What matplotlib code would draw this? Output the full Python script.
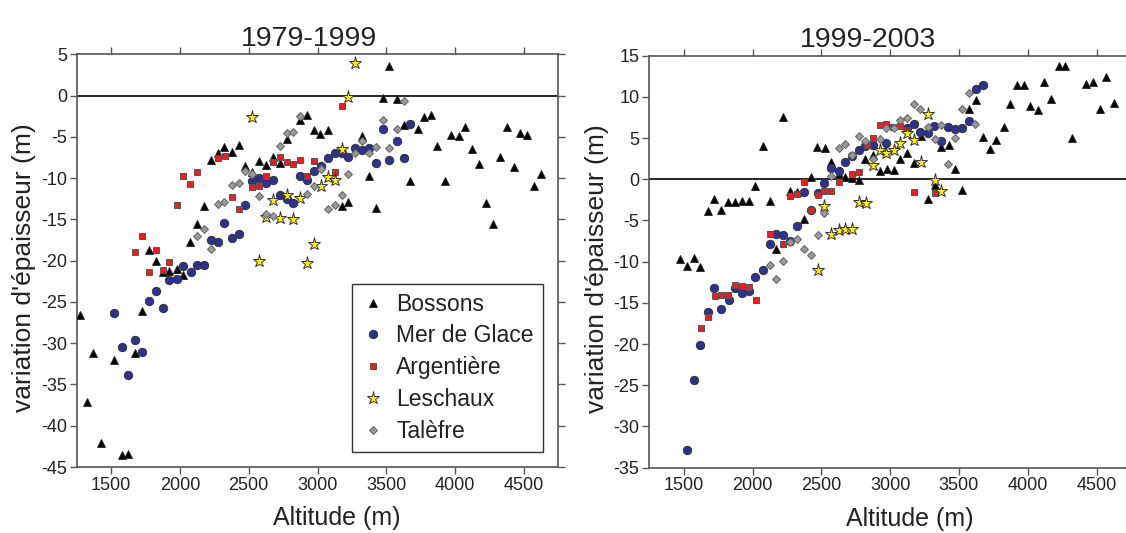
import matplotlib
matplotlib.use("Agg")
import matplotlib.pyplot as plt

plt.rcParams['font.family'] = ['Liberation Sans', 'DejaVu Sans']
plt.rcParams['axes.unicode_minus'] = False

# ---------------- data: 1979-1999 ----------------
bossons_alt_a = [2927, 2874, 2976, 3020, 3075, 2777, 2426, 2324, 2377, 2275, 2225, 2576, 2627, 2675, 2724, 2474, 2523,
                 2176, 2123, 2074, 1774, 1825,
                 3523, 3475, 3577, 3775, 3826, 3327, 3625, 3727, 3972, 4025, 4073, 4376, 4473, 4526, 3872, 4124, 4323,
                 4175, 4425, 4626, 4577, 3376, 3674, 3923, 3225, 3177, 3426, 4226, 4275,
                 1876, 1924, 1977, 2026, 1275, 1723, 1372, 1524, 1674, 1328, 1427, 1578, 1626]
bossons_dh_a = [-2.4, -3.0, -4.2, -4.7, -4.2, -5.3, -6.0, -6.2, -6.8, -7.0, -7.8, -7.9, -8.4, -7.5, -8.2, -8.5, -9.2,
                -13.4, -15.5, -17.8, -18.7, -20.0,
                3.6, -0.3, -0.4, -2.6, -2.4, -4.9, -3.6, -4.0, -4.8, -4.9, -3.8, -3.8, -4.5, -4.8, -6.1, -6.5, -7.4,
                -8.3, -8.6, -9.5, -10.9, -9.7, -10.3, -10.3, -12.9, -13.4, -13.6, -13.0, -15.5,
                -21.4, -21.2, -21.0, -21.7, -26.6, -26.1, -31.2, -32.0, -31.2, -37.1, -42.1, -43.5, -43.4]

merdeglace_alt_a = [3024, 2976, 2874, 2922, 2576, 2527, 2627, 2675, 2724, 2777, 2825, 2474, 2324, 2225, 2275, 2377, 2426,
                    2026, 2123, 2176,
                    3674, 3475, 3577, 3274, 3322, 3376, 3177, 3225, 3124, 3075, 3426, 3523, 3625,
                    2079, 1924, 1977, 1825, 1776, 1876, 1524, 1674, 1578, 1723, 1626]
merdeglace_dh_a = [-8.5, -9.1, -9.7, -10.2, -10.0, -10.4, -10.6, -10.2, -12.0, -12.5, -13.0, -13.3, -15.4, -17.5, -17.7,
                   -17.3, -16.8, -20.7, -20.5, -20.5,
                   -3.5, -4.1, -5.5, -6.3, -6.6, -6.4, -7.0, -7.5, -7.0, -7.6, -8.2, -7.8, -7.6,
                   -21.4, -22.4, -22.2, -23.7, -24.9, -25.7, -26.4, -29.6, -30.5, -31.1, -33.9]

argentiere_alt_a = [2275, 2329, 2724, 2680, 2777, 2825, 2874, 2976, 2026, 2123, 2074, 2627, 2927, 2523, 2576, 2377, 2426,
                    1977, 1723, 1825, 1674, 1924, 3177, 3124, 1776, 1876]
argentiere_dh_a = [-7.6, -7.3, -7.5, -8.0, -8.0, -8.3, -7.8, -7.9, -9.7, -9.2, -10.7, -9.8, -9.7, -11.1, -11.0, -12.3,
                   -13.7, -13.3, -17.0, -18.7, -19.0, -20.2, -1.3, -9.3, -21.4, -21.1]

leschaux_alt_a = [2523, 2777, 2675, 2874, 2627, 2724, 2825, 2976, 2576, 2922, 3274, 3225, 3177, 3075, 3124, 3024]
leschaux_dh_a = [-2.6, -12.1, -12.6, -12.4, -14.7, -14.8, -15.0, -18.0, -20.0, -20.3, 3.9, -0.2, -6.5, -9.9, -10.2, -11.0]

talefre_alt_a = [2874, 2777, 2825, 2724, 2474, 2523, 2377, 2426, 2576, 2275, 2324, 2627, 2675, 2922, 2976, 2176, 2123,
                 2225, 3625, 3475, 3577, 3322, 3274, 3376, 3426, 3523, 3024, 3225, 3177, 3124, 3075]
talefre_dh_a = [-2.5, -4.5, -4.4, -6.1, -9.1, -9.5, -10.8, -10.6, -12.2, -13.1, -12.9, -14.3, -14.6, -11.9, -11.0, -16.2,
                -17.0, -18.6, -0.6, -2.9, -4.0, -5.5, -6.9, -7.0, -6.2, -6.4, -8.9, -9.5, -12.1, -13.2, -13.8]

# ---------------- data: 1999-2003 ----------------
bossons_alt_b = [2221, 2073, 2468, 2524, 2570, 2819, 2625, 2674, 2722, 2771, 2424, 2020, 2269, 2323, 1722, 2124, 1819,
                 1870, 1923, 1971, 1673, 1773, 2371, 2170, 1475, 1576, 1523, 1620,
                 4225, 4273, 4571, 3922, 3970, 4121, 4424, 4472, 3624, 4172, 4625, 3874, 4019, 4072, 4523, 3576, 3825,
                 3675, 3772, 3723, 4322, 3224, 3372, 3425, 3122, 3074, 2875, 3176, 2977, 3026, 2924, 3474, 3324, 3522, 3273]
bossons_dh_b = [7.5, 4.0, 3.9, 3.75, 2.1, 2.5, 0.7, 0.3, 0.2, -0.1, 0.3, -0.8, -1.4, -1.5, -2.4, -2.6, -2.8,
                -2.8, -2.6, -2.6, -3.9, -3.7, -4.8, -8.4, -9.7, -9.6, -10.5, -10.7,
                13.8, 13.7, 12.45, 11.4, 11.5, 11.8, 11.6, 11.8, 9.6, 9.8, 9.3, 9.1, 8.9, 8.4, 8.5, 8.5, 6.3,
                5.1, 4.8, 3.7, 5.0, 5.3, 3.9, 4.2, 3.2, 2.5, 2.9, 2.0, 1.3, 1.1, 1.0, 1.3, -0.7, -1.3, -2.4]

merdeglace_alt_b = [2771, 2819, 2722, 2674, 2570, 2625, 2521, 2371, 2473, 2424, 2323, 2172, 2225, 2274, 2124, 2075,
                    3675, 3624, 3571, 3171, 3316, 3420, 3474, 3522, 3219, 3273, 3122, 3372, 2972, 2873,
                    1722, 1673, 1773, 1826, 1874, 1923, 1976, 2020, 1622, 1576, 1523]
merdeglace_dh_b = [3.6, 4.0, 2.8, 2.1, 1.4, 1.0, -0.5, -1.6, -1.7, -3.7, -5.7, -6.6, -6.8, -7.5, -7.9, -11.0,
                   11.4, 11.0, 7.1, 6.7, 6.5, 6.3, 6.1, 6.2, 5.8, 5.6, 6.2, 4.6, 4.4, 4.2,
                   -13.2, -16.1, -15.7, -14.7, -13.2, -13.8, -13.6, -11.8, -20.1, -24.3, -32.8]

argentiere_alt_b = [2371, 2521, 2570, 2625, 2722, 2771, 2274, 2323, 2473, 2424, 2124, 2221, 2831, 2924, 2972, 3021,
                    3074, 3122, 2873, 3171, 3324, 1724, 1773, 1821, 1874, 1923, 1976, 2025, 1673, 1625]
argentiere_dh_b = [-0.3, -1.4, -1.4, -0.3, 0.6, 0.9, -2.0, -1.8, -1.9, -3.7, -6.6, -7.9, 4.2, 6.6, 6.7, 6.3,
                   6.5, 6.0, 5.05, -1.6, -1.7, -14.2, -14.0, -14.0, -12.8, -13.0, -13.1, -14.6, -16.7, -18.0]

leschaux_alt_b = [2521, 2771, 2824, 2570, 2625, 2674, 2722, 2475, 3273, 3122, 3171, 3074, 2924, 2972, 3026, 2875,
                  3224, 3324, 3372]
leschaux_dh_b = [-3.3, -2.8, -2.9, -6.6, -6.1, -6.0, -6.0, -11.0, 7.9, 5.6, 4.8, 4.4, 3.55, 3.2, 3.55, 1.7,
                 2.1, -0.1, -1.4]

talefre_alt_b = [2771, 2819, 2625, 2674, 2722, 2570, 2521, 2473, 2323, 2274, 2371, 2424, 2225, 2124, 3171, 3219,
                 3571, 3522, 3619, 3122, 3074, 2972, 3026, 3273, 3372, 3324, 3474, 2924, 2875, 3420, 2172]
talefre_dh_b = [5.2, 4.6, 3.75, 4.3, 2.9, 0.4, -4.1, -6.7, -7.3, -7.6, -8.4, -9.2, -9.9, -10.4, 9.1, 8.5,
                10.5, 8.5, 6.7, 7.4, 7.2, 6.2, 6.2, 6.4, 6.6, 4.9, 5.05, 4.9, 2.5, 1.8, -12.1]

series_names = ['Bossons', 'Mer de Glace', 'Argentière', 'Leschaux', 'Talèfre']
titles = ['1979-1999', '1999-2003']
x_ticks = [1500, 2000, 2500, 3000, 3500, 4000, 4500]
y_ticks_a = list(range(-45, 6, 5))
y_ticks_b = list(range(-35, 16, 5))

styles = {
    'Bossons': dict(marker='^', ms=6.2, mfc='black', mec='#222222', mew=0.6),
    'Mer de Glace': dict(marker='o', ms=6.0, mfc='#2E3192', mec='#333333', mew=0.7),
    'Argentière': dict(marker='s', ms=4.0, mfc='#ED1C24', mec='#555555', mew=0.7),
    'Leschaux': dict(marker='*', ms=9.5, mfc='#FFF200', mec='#333333', mew=0.7),
    'Talèfre': dict(marker='D', ms=3.9, mfc='#999999', mec='#666666', mew=0.7),
}

panel_a = [(bossons_alt_a, bossons_dh_a), (merdeglace_alt_a, merdeglace_dh_a), (argentiere_alt_a, argentiere_dh_a),
           (leschaux_alt_a, leschaux_dh_a), (talefre_alt_a, talefre_dh_a)]
panel_b = [(bossons_alt_b, bossons_dh_b), (merdeglace_alt_b, merdeglace_dh_b), (argentiere_alt_b, argentiere_dh_b),
           (leschaux_alt_b, leschaux_dh_b), (talefre_alt_b, talefre_dh_b)]

W, H = 1126, 533
fig = plt.figure(figsize=(W / 100, H / 100), dpi=100)

def px_axes(x0, x1, ytop, ybot):
    return [x0 / W, (H - ybot) / H, (x1 - x0) / W, (ybot - ytop) / H]

ax1 = fig.add_axes(px_axes(76.7, 558.3, 54.3, 467.0))
ax2 = fig.add_axes(px_axes(649.3, 1130.9, 55.7, 467.7))

spine_col = '#555555'
for ax, data, yt, ylim, title, tx in [(ax1, panel_a, y_ticks_a, (-45, 5), titles[0], 0.482),
                                     (ax2, panel_b, y_ticks_b, (-35, 15), titles[1], 0.455)]:
    ax.axhline(0, color='black', lw=1.2, zorder=1.5)
    for name, (xs, ys) in zip(series_names, data):
        ax.plot(xs, ys, ls='none', label=name, zorder=3, **styles[name])
    ax.set_xlim(1250, 4750)
    ax.set_ylim(*ylim)
    ax.set_xticks(x_ticks)
    ax.set_yticks(yt)
    ax.tick_params(direction='out', length=5, width=1.0, color=spine_col, top=True, right=True,
                   labeltop=False, labelright=False, labelsize=13, labelcolor='#222222', pad=2)
    for s in ax.spines.values():
        s.set_color(spine_col)
        s.set_linewidth(1.2)
    ax.set_xlabel('Altitude (m)', fontsize=18, color='#222222')
    ax.xaxis.label.set_va('baseline')
    ax.xaxis.set_label_coords(0.541, -0.1405)
    ax.set_ylabel("variation d'épaisseur (m)", fontsize=19, color='#222222')
    ax.yaxis.label.set_va('center')
    ax.yaxis.set_label_coords(-0.109, 0.482)
    t = ax.set_title(title, fontsize=20.5, color='#222222')
    t.set_va('baseline')
    t.set_position((tx, 1.059))

leg = ax1.legend(handles=ax1.get_lines()[1:], labels=series_names, loc='lower right',
                 bbox_to_anchor=(0.9676, 0.037), borderaxespad=0, fontsize=16.5, frameon=True,
                 fancybox=False, edgecolor='#333333', framealpha=1, handlelength=1.0,
                 handletextpad=0.5, labelspacing=0.38, borderpad=0.4, numpoints=1)
leg.get_frame().set_linewidth(1.0)
for txt in leg.get_texts():
    txt.set_color('#222222')

fig.savefig('out.png', dpi=100)
